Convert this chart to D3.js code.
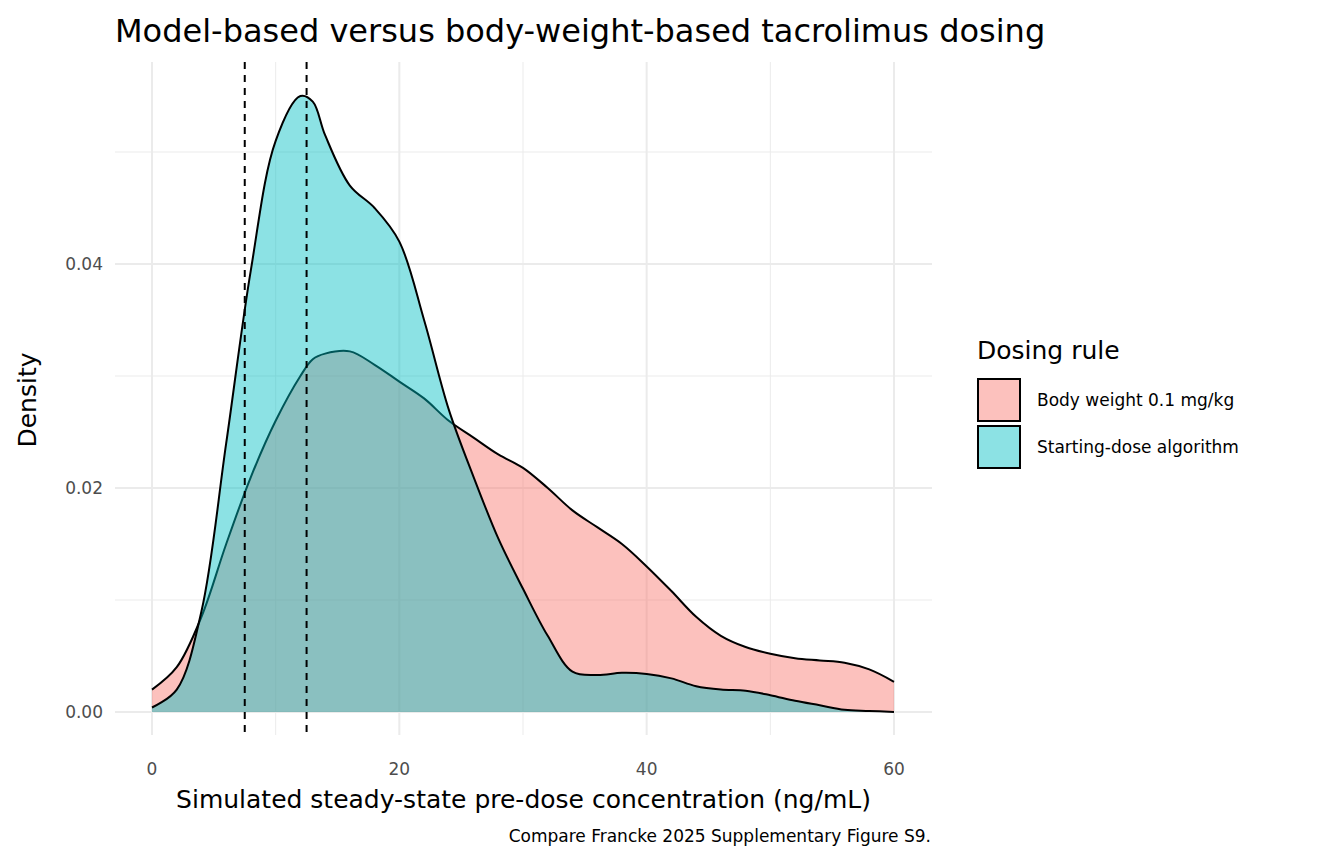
<!DOCTYPE html>
<html><head><meta charset="utf-8">
<script src="https://cdn.jsdelivr.net/npm/d3@7"></script>
<style>body{margin:0;background:#fff;font-family:"DejaVu Sans",sans-serif}</style>
</head><body><svg id="c" width="1344" height="864" font-family="DejaVu Sans"></svg>
<script>
const xs = [0,2,4,6,8,10,12,13,14,16,18,20,22,24,26,28,30,32,34,36,38,40,42,44,46,48,50,52,54,56,58,60];
const bodyWeight = [0.002,0.004,0.0085,0.015,0.021,0.026,0.030,0.0315,0.032,0.0322,0.031,0.0295,0.028,0.026,0.0245,0.023,0.0218,0.020,0.018,0.0165,0.015,0.013,0.0108,0.0085,0.0068,0.0058,0.0052,0.0048,0.0046,0.0044,0.0038,0.0027];
const algorithm = [0.0004,0.002,0.009,0.024,0.0395,0.051,0.055,0.0545,0.0515,0.047,0.045,0.042,0.035,0.027,0.021,0.0155,0.011,0.0068,0.0036,0.0033,0.0035,0.0034,0.003,0.0023,0.002,0.0019,0.0015,0.001,0.0006,0.0002,0.0001,0.0];
const targets = [7.5,12.5];
const xTicks = [0,20,40,60], xMinor=[10,30,50];
const yTicks = [0,0.02,0.04], yMinor=[0.01,0.03,0.05];
const seriesNames = ["Body weight 0.1 mg/kg","Starting-dose algorithm"];
const colors = ["#F8766D","#00BFC4"];

const svg = d3.select("#c");
const x = d3.scaleLinear().domain([0,60]).range([152,894]);
const y = d3.scaleLinear().domain([0,0.04]).range([712,264]);
const L=115,R=932,T=62,B=735;
const g = svg.append("g");
xMinor.forEach(v=>g.append("line").attr("x1",x(v)).attr("x2",x(v)).attr("y1",T).attr("y2",B).attr("stroke","#ebebeb").attr("stroke-width",1));
yMinor.forEach(v=>g.append("line").attr("y1",y(v)).attr("y2",y(v)).attr("x1",L).attr("x2",R).attr("stroke","#ebebeb").attr("stroke-width",1));
xTicks.forEach(v=>g.append("line").attr("x1",x(v)).attr("x2",x(v)).attr("y1",T).attr("y2",B).attr("stroke","#ebebeb").attr("stroke-width",2));
yTicks.forEach(v=>g.append("line").attr("y1",y(v)).attr("y2",y(v)).attr("x1",L).attr("x2",R).attr("stroke","#ebebeb").attr("stroke-width",2));

const area = d3.area().x((d,i)=>x(xs[i])).y0(y(0)).y1(d=>y(d)).curve(d3.curveCatmullRom);
const line = d3.line().x((d,i)=>x(xs[i])).y(d=>y(d)).curve(d3.curveCatmullRom);
[bodyWeight,algorithm].forEach((s,k)=>{
  g.append("path").attr("d",area(s)).attr("fill",colors[k]).attr("fill-opacity",0.45);
  g.append("path").attr("d",line(s)).attr("fill","none").attr("stroke","#000").attr("stroke-width",2);
});
targets.forEach(v=>g.append("line").attr("x1",x(v)).attr("x2",x(v)).attr("y1",T).attr("y2",B).attr("stroke","#000").attr("stroke-width",2).attr("stroke-dasharray","7,6"));

xTicks.forEach(v=>g.append("text").attr("x",x(v)).attr("y",775).attr("text-anchor","middle").attr("font-size",17).attr("fill","#4d4d4d").text(v));
yTicks.forEach(v=>g.append("text").attr("x",103).attr("y",y(v)+6).attr("text-anchor","end").attr("font-size",17).attr("fill","#4d4d4d").text(v.toFixed(2)));

svg.append("text").attr("x",115).attr("y",42).attr("font-size",32).text("Model-based versus body-weight-based tacrolimus dosing");
svg.append("text").attr("x",(L+R)/2).attr("y",808).attr("text-anchor","middle").attr("font-size",25).text("Simulated steady-state pre-dose concentration (ng/mL)");
svg.append("text").attr("transform","translate(36,400) rotate(-90)").attr("text-anchor","middle").attr("font-size",25).text("Density");
svg.append("text").attr("x",931).attr("y",842).attr("text-anchor","end").attr("font-size",17).text("Compare Francke 2025 Supplementary Figure S9.");

svg.append("text").attr("x",977).attr("y",359).attr("font-size",25).text("Dosing rule");
seriesNames.forEach((n,k)=>{
  const yy = 379 + k*47;
  svg.append("rect").attr("x",978).attr("y",yy).attr("width",42).attr("height",42).attr("fill",colors[k]).attr("fill-opacity",0.45).attr("stroke","#000").attr("stroke-width",2);
  svg.append("text").attr("x",1037).attr("y",yy+27).attr("font-size",17).text(n);
});
</script></body></html>
